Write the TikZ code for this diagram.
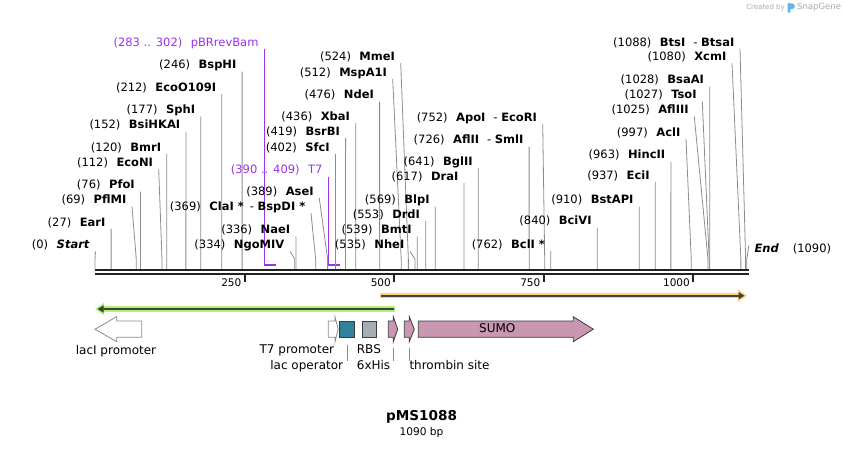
\documentclass[tikz,border=0pt]{standalone}
\usepackage{fontspec}
\setmainfont{DejaVu Sans}
\usetikzlibrary{arrows.meta, calc}
\definecolor{backbone}{HTML}{222222}
\definecolor{leaderGray}{HTML}{8C8C8C}
\definecolor{primerPurple}{HTML}{9B30F0}
\definecolor{operatorTeal}{HTML}{2F8299}
\definecolor{rbsGray}{HTML}{A6ADB5}
\definecolor{sumoPink}{HTML}{C997B1}
\definecolor{featEdge}{HTML}{3C3C3C}
\definecolor{promoEdge}{HTML}{8C8C8C}
\definecolor{hlGreen}{HTML}{B5EF7E}
\definecolor{hlOrange}{HTML}{FFD17F}
\definecolor{orfDark}{HTML}{3E4436}
\definecolor{markGray}{HTML}{A8A8A8}
\definecolor{logoBlue}{HTML}{5DB6EE}
\newcommand{\gp}{\hspace{8.5pt}}

\begin{document}
\begin{tikzpicture}[x=1pt, y=-1pt, every node/.style={inner sep=0pt}]
  \tikzset{cutlabel/.style={anchor=south east, inner xsep=5.5pt, font=\fontsize{11.5}{13}\selectfont, text height=8.5pt, text depth=2.5pt},
    primerlabel/.style={cutlabel, text=primerPurple},
    leader/.style={draw=leaderGray, line width=0.8pt},
    primerline/.style={draw=primerPurple, line width=1pt},
    primerbar/.style={draw=primerPurple, line width=2pt},
    scaletick/.style={draw=backbone, line width=2pt},
    ticklabel/.style={anchor=east, font=\fontsize{10.5}{12}\selectfont},
    feature/.style={draw=featEdge, line width=0.8pt, line join=miter},
    promoter/.style={draw=promoEdge, fill=white, line width=0.8pt},
    featlabel/.style={font=\fontsize{12}{14}\selectfont, text height=8.5pt, text depth=2.5pt},
    conn/.style={draw=leaderGray, line width=0.8pt}}
  \useasboundingbox (0,0) rectangle (844,448);

  % watermark
  \node[anchor=east, font=\fontsize{7}{8}\selectfont, text=markGray] (made) at (785,7.5) {Created by};
  \fill[logoBlue] (787.5,3) -- (792.5,3.5) .. controls (795.5,4) and (795.5,8.5) .. (792.5,9) -- (790.3,9.3) -- (790.3,12.5) -- (787.5,12.5) -- cycle;
  \node[anchor=west, font=\fontsize{8.5}{10}\selectfont, text=markGray] (sg) at (797,7.5) {SnapGene};

  % primers
  \node[primerlabel] (pbr) at (264.2,48.8) {(283 .. 302)\gp pBRrevBam};
  \coordinate (pbr-a) at (264.2,265); \coordinate (pbr-b) at (275.6,265);
  \draw[primerline] (pbr.south east) -- (pbr-a);
  \draw[primerbar] (pbr-a) -- (pbr-b);
  \node[primerlabel] (t7p) at (328.2,176.5) {(390 .. 409)\gp T7};
  \coordinate (t7p-a) at (328.2,265); \coordinate (t7p-b) at (339.6,265);
  \draw[primerline] (t7p.south east) -- (t7p-a);
  \draw[primerbar] (t7p-a) -- (t7p-b);

  % enzyme sites
  \foreach \id/\bp/\ly/\lx/\txt in {
    start/0/245/95.5/{(0)\gp\textbf{\textit{Start}}},
    earI/27/222.3/111.1/{(27)\gp\textbf{EarI}},
    pflMI/69/200/132/{(69)\gp\textbf{PflMI}},
    pfoI/76/185/140.4/{(76)\gp\textbf{PfoI}},
    ecoNI/112/162.3/158.7/{(112)\gp\textbf{EcoNI}},
    bmrI/120/147.3/166.8/{(120)\gp\textbf{BmrI}},
    bsiHKAI/152/125/185.9/{(152)\gp\textbf{BsiHKAI}},
    sphI/177/110/200.8/{(177)\gp\textbf{SphI}},
    ecoO/212/87.3/221.8/{(212)\gp\textbf{EcoO109I}},
    bspHI/246/65/242.1/{(246)\gp\textbf{BspHI}},
    ngoMIV/334/245/290/{(334)\gp\textbf{NgoMIV}},
    naeI/336/230/295.9/{(336)\gp\textbf{NaeI}},
    claI/369/206.7/311/{(369)\gp\textbf{ClaI *}\hspace{6pt}- \textbf{BspDI *}},
    aseI/389/191.7/319.3/{(389)\gp\textbf{AseI}},
    sfcI/402/147.3/335.4/{(402)\gp\textbf{SfcI}},
    bsrBI/419/131.7/345.6/{(419)\gp\textbf{BsrBI}},
    xbaI/436/116.7/355.7/{(436)\gp\textbf{XbaI}},
    ndeI/476/95/379.6/{(476)\gp\textbf{NdeI}},
    mspA1I/512/72.3/392.7/{(512)\gp\textbf{MspA1I}},
    mmeI/524/56.7/400.7/{(524)\gp\textbf{MmeI}},
    nheI/535/245/410/{(535)\gp\textbf{NheI}},
    bmtI/539/230/417.3/{(539)\gp\textbf{BmtI}},
    drdI/553/214.3/425.7/{(553)\gp\textbf{DrdI}},
    blpI/569/200/435.3/{(569)\gp\textbf{BlpI}},
    draI/617/176.7/464/{(617)\gp\textbf{DraI}},
    bglII/641/161.7/478.3/{(641)\gp\textbf{BglII}},
    aflII/726/140/529.1/{(726)\gp\textbf{AflII}\hspace{8pt}- \textbf{SmlI}},
    apoI/752/117.3/542.7/{(752)\gp\textbf{ApoI}\hspace{8pt}- \textbf{EcoRI}},
    bclI/762/244.3/550.7/{(762)\gp\textbf{BclI *}},
    bciVI/840/221/597.3/{(840)\gp\textbf{BciVI}},
    bstAPI/910/200/639.2/{(910)\gp\textbf{BstAPI}},
    eciI/937/175.7/655.3/{(937)\gp\textbf{EciI}},
    hincII/963/155/670.9/{(963)\gp\textbf{HincII}},
    aclI/997/132.3/686/{(997)\gp\textbf{AclI}},
    aflIII/1025/110/694.3/{(1025)\gp\textbf{AflIII}},
    tsoI/1027/95/702.3/{(1027)\gp\textbf{TsoI}},
    bsaAI/1028/80/709.7/{(1028)\gp\textbf{BsaAI}},
    xcmI/1080/56.7/732/{(1080)\gp\textbf{XcmI}},
    btsI/1088/42.3/740/{(1088)\gp\textbf{BtsI}\hspace{8pt}- \textbf{BtsaI}}}{
    \coordinate (\id-site) at (95+0.598*\bp,269);
    \node[cutlabel] (\id) at (\lx,\ly+6.5) {\txt};
    \draw[leader] (\id.south east) -- ([yshift=10pt]\id-site) -- (\id-site);
  }
  \coordinate (end-site) at (746.8,269);
  \node[cutlabel, anchor=west] (end) at (748.8,249.5) {\textbf{\textit{End}}\hspace{14pt}(1090)};
  \draw[leader] ([yshift=4pt]end.west) -- ([yshift=10pt]end-site) -- (end-site);

  % backbone and scale
  \coordinate (bb-start) at (95,272); \coordinate (bb-end) at (749,272);
  \draw[draw=backbone, line width=2.2pt, double=white, double distance=1.8pt] (bb-start) -- (bb-end);
  \foreach \t in {250,500,750,1000}{
    \coordinate (tick\t) at (95+0.598*\t,275);
    \draw[scaletick] (tick\t) -- ++(0,7);
    \node[ticklabel] (tl\t) at ([xshift=-3pt,yshift=-7.5pt]tick\t) {\t};
  }

  % ORF highlights
  \coordinate (lacR) at (395,309); \coordinate (lacL) at (95,309);
  \draw[hlGreen, line width=5.5pt, -{Triangle[length=9pt,width=12pt]}] (lacR) -- (lacL);
  \draw[orfDark, line width=2pt, -{Triangle[length=6pt,width=7pt]}] ([xshift=-1pt]lacR) -- ([xshift=2.5pt]lacL);
  \coordinate (sumoL) at (380,295.7); \coordinate (sumoR) at (747,295.7);
  \draw[hlOrange, line width=5.5pt, -{Triangle[length=9pt,width=12pt]}] (sumoL) -- (sumoR);
  \draw[orfDark, line width=2pt, -{Triangle[length=6pt,width=7pt]}] ([xshift=1pt]sumoL) -- ([xshift=-2.5pt]sumoR);

  % features
  \draw[promoter] (141.7,321) -- (116.7,321) -- (116.7,316.7) -- (95,329.2) -- (116.7,341.7) -- (116.7,337.3) -- (141.7,337.3) -- cycle;
  \draw[promoter] (328.3,321) -- (335,321) -- (335,316.7) -- (338.2,329.2) -- (335,341.7) -- (335,337.3) -- (328.3,337.3) -- cycle;
  \draw[feature, fill=operatorTeal] (339.3,321) rectangle (354.7,337.3);
  \draw[feature, fill=rbsGray] (362.3,321) rectangle (376.7,337.3);
  \draw[feature, fill=sumoPink] (388.3,321) -- (393.3,321) -- (393.3,316.7) -- (397.7,329.2) -- (393.3,341.7) -- (393.3,337.3) -- (388.3,337.3) -- cycle;
  \draw[feature, fill=sumoPink] (404.3,321) -- (409.3,321) -- (409.3,316.7) -- (414.3,329.2) -- (409.3,341.7) -- (409.3,337.3) -- (404.3,337.3) -- cycle;
  \draw[feature, fill=sumoPink] (418.3,321) -- (573.3,321) -- (573.3,316.7) -- (593.3,329.2) -- (573.3,341.7) -- (573.3,337.3) -- (418.3,337.3) -- cycle;
  \node[featlabel] (sumo) at (497.3,329.5) {SUMO};

  % feature labels
  \node[featlabel] (lacI) at (116,351) {lacI promoter};
  \node[featlabel, anchor=east] (t7) at (334.3,350.5) {T7 promoter};
  \node[featlabel, anchor=east] (lacO) at (343.3,366.7) {lac operator};
  \node[featlabel, anchor=west] (rbs) at (356.7,350.5) {RBS};
  \node[featlabel, anchor=west] (his) at (356.7,366.7) {6xHis};
  \node[featlabel, anchor=west] (thr) at (409.3,366.7) {thrombin site};
  \coordinate (lacO-c) at (346.9,344.5); \coordinate (his-c) at (393.3,347.5); \coordinate (thr-c) at (409.3,347.5);
  \draw[conn] (lacO-c) -- (lacO-c |- lacO.north);
  \draw[conn] (his-c) -- (his-c |- his.north);
  \draw[conn] (thr-c) -- (thr-c |- thr.north);

  % title
  \node[font=\bfseries\fontsize{13.6}{16}\selectfont] (title) at (421.5,416.5) {pMS1088};
  \node[font=\fontsize{10.6}{12}\selectfont] (size) at (421.5,433) {1090 bp};
\end{tikzpicture}
\end{document}
